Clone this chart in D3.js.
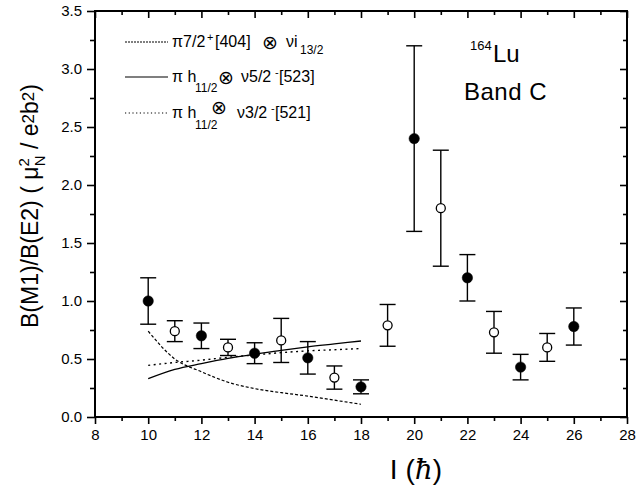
<!DOCTYPE html>
<html>
<head>
<meta charset="utf-8">
<script src="https://cdn.jsdelivr.net/npm/d3@7"></script>
<style>
  html, body { margin: 0; padding: 0; background: #fff; }
  svg { display: block; font-family: "Liberation Sans", Arial, Helvetica, sans-serif; }
</style>
</head>
<body>
<script>
(function(d3) {
  "use strict";

  /***** Données *****/
  // Spin I (hbar) des points expérimentaux
  var spins = [10, 11, 12, 13, 14, 15, 16, 17, 18, 19, 20, 21, 22, 23, 24, 25, 26];
  var ratios = [1.00, 0.74, 0.70, 0.60, 0.55, 0.66, 0.51, 0.34, 0.26, 0.79, 2.40, 1.80, 1.20, 0.73, 0.43, 0.60, 0.78];
  var errLow = [0.80, 0.65, 0.59, 0.53, 0.46, 0.47, 0.37, 0.24, 0.20, 0.61, 1.60, 1.30, 1.00, 0.55, 0.32, 0.48, 0.62];
  var errHigh = [1.20, 0.83, 0.81, 0.67, 0.64, 0.85, 0.65, 0.44, 0.32, 0.97, 3.20, 2.30, 1.40, 0.91, 0.54, 0.72, 0.94];
  // signature : true = cercle plein, false = cercle vide
  var filled = [true, false, true, false, true, false, true, false, true, false, true, false, true, false, true, false, true];

  // Calculs théoriques
  var theorySpins = [10, 11, 12, 13, 14, 15, 16, 17, 18];
  var theoryI13 = [0.74, 0.50, 0.39, 0.30, 0.245, 0.21, 0.18, 0.145, 0.11];
  var theoryH523 = [0.33, 0.41, 0.46, 0.505, 0.54, 0.575, 0.605, 0.63, 0.655];
  var theoryH521 = [0.445, 0.47, 0.49, 0.515, 0.535, 0.555, 0.57, 0.58, 0.59];

  var xTicks = [8, 10, 12, 14, 16, 18, 20, 22, 24, 26, 28];
  var xMinorTicks = [9, 11, 13, 15, 17, 19, 21, 23, 25, 27];
  var yTicks = [0, 0.5, 1.0, 1.5, 2.0, 2.5, 3.0, 3.5];
  var yMinorTicks = [0.25, 0.75, 1.25, 1.75, 2.25, 2.75, 3.25];

  /***** Configuration *****/
  var width = 637, height = 495;
  var plot = { left: 95, right: 627, top: 11, bottom: 417 };

  var x = d3.scaleLinear().domain([8, 28]).range([plot.left, plot.right]);
  var y = d3.scaleLinear().domain([0, 3.5]).range([plot.bottom, plot.top]);

  var svg = d3.select("body").append("svg")
    .attr("width", width)
    .attr("height", height);

  /***** Axes *****/
  function styleAxis(g, labels) {
    g.select(".domain").remove();
    g.selectAll(".tick line").attr("stroke", "#000").attr("stroke-width", 1.6);
    g.selectAll(".tick text").attr("fill", "#000").attr("font-size", 15)
      .attr("font-family", "\"Liberation Sans\", Arial, sans-serif");
    if (!labels) g.selectAll(".tick text").remove();
  }

  // bas (graduations vers l'extérieur)
  svg.append("g").attr("transform", "translate(0," + plot.bottom + ")")
    .call(d3.axisBottom(x).tickValues(xTicks).tickSize(7).tickPadding(5).tickFormat(d3.format("d")))
    .call(styleAxis, true);
  svg.append("g").attr("transform", "translate(0," + plot.bottom + ")")
    .call(d3.axisBottom(x).tickValues(xMinorTicks).tickSize(4))
    .call(styleAxis, false);

  // haut (vers l'intérieur)
  svg.append("g").attr("transform", "translate(0," + plot.top + ")")
    .call(d3.axisBottom(x).tickValues(xTicks).tickSize(7))
    .call(styleAxis, false);
  svg.append("g").attr("transform", "translate(0," + plot.top + ")")
    .call(d3.axisBottom(x).tickValues(xMinorTicks).tickSize(4))
    .call(styleAxis, false);

  // gauche (vers l'extérieur)
  svg.append("g").attr("transform", "translate(" + plot.left + ",0)")
    .call(d3.axisLeft(y).tickValues(yTicks).tickSize(8).tickPadding(5).tickFormat(d3.format(".1f")))
    .call(styleAxis, true);
  svg.append("g").attr("transform", "translate(" + plot.left + ",0)")
    .call(d3.axisLeft(y).tickValues(yMinorTicks).tickSize(5))
    .call(styleAxis, false);

  // droite (vers l'intérieur)
  svg.append("g").attr("transform", "translate(" + plot.right + ",0)")
    .call(d3.axisLeft(y).tickValues(yTicks).tickSize(7))
    .call(styleAxis, false);
  svg.append("g").attr("transform", "translate(" + plot.right + ",0)")
    .call(d3.axisLeft(y).tickValues(yMinorTicks).tickSize(4))
    .call(styleAxis, false);

  // cadre
  svg.append("rect")
    .attr("x", plot.left).attr("y", plot.top)
    .attr("width", plot.right - plot.left).attr("height", plot.bottom - plot.top)
    .attr("fill", "none").attr("stroke", "#000").attr("stroke-width", 2);

  /***** Courbes théoriques *****/
  var line = d3.line()
    .x(function(d) { return x(d[0]); })
    .y(function(d) { return y(d[1]); })
    .curve(d3.curveMonotoneX);

  var curves = [
    { values: theoryI13, dash: "3,2", width: 1.2 },
    { values: theoryH523, dash: null, width: 1.3 },
    { values: theoryH521, dash: "2,3.5", width: 1.4 }
  ];

  curves.forEach(function(c) {
    svg.append("path")
      .datum(d3.zip(theorySpins, c.values))
      .attr("d", line)
      .attr("fill", "none")
      .attr("stroke", "#000")
      .attr("stroke-width", c.width)
      .attr("stroke-dasharray", c.dash);
  });

  /***** Points expérimentaux *****/
  var data = spins.map(function(s, i) {
    return { spin: s, v: ratios[i], lo: errLow[i], hi: errHigh[i], filled: filled[i] };
  });

  var pts = svg.append("g").selectAll("g").data(data).join("g");
  var cap = 8;

  pts.append("line")
    .attr("x1", function(d) { return x(d.spin); })
    .attr("x2", function(d) { return x(d.spin); })
    .attr("y1", function(d) { return y(d.lo); })
    .attr("y2", function(d) { return y(d.hi); })
    .attr("stroke", "#000").attr("stroke-width", 1.4);

  ["lo", "hi"].forEach(function(k) {
    pts.append("line")
      .attr("x1", function(d) { return x(d.spin) - cap; })
      .attr("x2", function(d) { return x(d.spin) + cap; })
      .attr("y1", function(d) { return y(d[k]); })
      .attr("y2", function(d) { return y(d[k]); })
      .attr("stroke", "#000").attr("stroke-width", 1.4);
  });

  pts.append("circle")
    .attr("cx", function(d) { return x(d.spin); })
    .attr("cy", function(d) { return y(d.v); })
    .attr("r", function(d) { return d.filled ? 5.2 : 4.5; })
    .attr("fill", function(d) { return d.filled ? "#000" : "#fff"; })
    .attr("stroke", "#000")
    .attr("stroke-width", function(d) { return d.filled ? 0.5 : 1.3; });

  /***** Légende *****/
  var legendRows = [
    { y: 42, dash: "2,1", width: 1.1 },
    { y: 77, dash: null, width: 1.2 },
    { y: 113, dash: "1.2,2.5", width: 1.1 }
  ];
  legendRows.forEach(function(r) {
    svg.append("line")
      .attr("x1", 125).attr("x2", 168)
      .attr("y1", r.y).attr("y2", r.y)
      .attr("stroke", "#000").attr("stroke-width", r.width)
      .attr("stroke-dasharray", r.dash);
  });

  var fs = 16;
  function txt(xp, yp, size) {
    return svg.append("text").attr("x", xp).attr("y", yp)
      .attr("font-size", size || fs).attr("fill", "#000");
  }
  function part(t, xp, yp, s, size) {
    return t.append("tspan").attr("x", xp).attr("y", yp)
      .attr("font-size", size || fs).text(s);
  }
  var otimes = "\"DejaVu Sans\", sans-serif";

  // ligne 1
  var t1 = txt(0, 0);
  part(t1, 172, 47, "π7/2");
  part(t1, 207, 41, "+", 11);
  part(t1, 215, 47, "[404]");
  part(t1, 262, 49, "⊗", 19).attr("font-family", otimes);
  part(t1, 286, 47, "νi");
  part(t1, 300, 54, "13/2", 12);

  // ligne 2
  var t2 = txt(0, 0);
  part(t2, 172, 82, "π h");
  part(t2, 195, 92, "11/2", 12);
  part(t2, 218, 84, "⊗", 19).attr("font-family", otimes);
  part(t2, 241, 82, "ν5/2");
  part(t2, 275, 76, "-", 11);
  part(t2, 279, 82, "[523]");

  // ligne 3
  var t3 = txt(0, 0);
  part(t3, 172, 118, "π h");
  part(t3, 195, 129, "11/2", 12);
  part(t3, 211, 114, "⊗", 19).attr("font-family", otimes);
  part(t3, 237, 118, "ν3/2");
  part(t3, 271, 112, "-", 11);
  part(t3, 275, 118, "[521]");

  // noyau / bande
  txt(470, 50, 13).text("164");
  txt(493, 62, 24).text("Lu");
  txt(464, 100, 24).attr("letter-spacing", 0.5).text("Band C");

  /***** Titres des axes *****/
  var yt = svg.append("text")
    .attr("transform", "translate(38,206) rotate(-90)")
    .attr("text-anchor", "middle")
    .attr("font-size", 23).attr("fill", "#000");
  yt.append("tspan").text("B(M1)/B(E2) ( μ");
  yt.append("tspan").attr("font-size", 15).attr("dy", -9).text("2");
  yt.append("tspan").attr("font-size", 15).attr("dx", -8).attr("dy", 16).text("N");
  yt.append("tspan").attr("dy", -7).text(" / e");
  yt.append("tspan").attr("font-size", 17).attr("dy", -4).text("2");
  yt.append("tspan").attr("dy", 4).text("b");
  yt.append("tspan").attr("font-size", 17).attr("dy", -4).text("2");
  yt.append("tspan").attr("dy", 4).text(")");

  var xt = svg.append("text")
    .attr("x", 416).attr("y", 479)
    .attr("text-anchor", "middle")
    .attr("font-size", 28).attr("fill", "#000");
  xt.append("tspan").text("I (");
  xt.append("tspan").attr("font-style", "italic").attr("font-family", "\"DejaVu Serif\", serif").text("ħ");
  xt.append("tspan").text(")");

})(d3);
</script>
</body>
</html>
